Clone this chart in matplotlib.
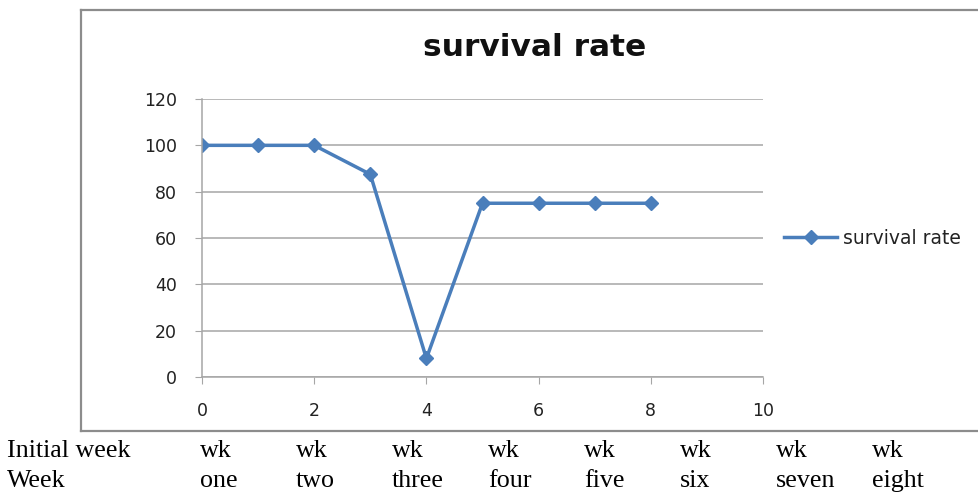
import matplotlib.pyplot as plt
from matplotlib.lines import Line2D

# data
weeks = [0, 1, 2, 3, 4, 5, 6, 7, 8]
survival = [100, 100, 100, 87.5, 8, 75, 75, 75, 75]
series_name = "survival rate"

row_heads = ["Initial week", "Week"]
col_top = ["wk"] * 8
col_bottom = ["one", "two", "three", "four", "five", "six", "seven", "eight"]

W, H = 979, 494
BLUE = "#4A7EBB"
GRID = "#a6a6a6"

plt.rcParams["font.family"] = ["DejaVu Sans"]

fig = plt.figure(figsize=(W / 100, H / 100), dpi=100)


def fx(px):
    return px / W


def fy(py):
    return 1 - py / H


# chart frame (right edge is cut off in the reference)
frame = dict(color="#8c8c8c", linewidth=1.6, transform=fig.transFigure)
fig.add_artist(Line2D([fx(81), fx(81)], [fy(10), fy(431)], **frame))
fig.add_artist(Line2D([fx(81), 1.0], [fy(10), fy(10)], **frame))
fig.add_artist(Line2D([fx(81), 1.0], [fy(431), fy(431)], **frame))

ax = fig.add_axes([fx(202), fy(377), fx(763) - fx(202), fy(99) - fy(377)])
ax.plot(weeks, survival, color=BLUE, linewidth=2.5, marker="D",
        markersize=7.5, label=series_name)

ax.set_xlim(0, 10)
ax.set_ylim(0, 120)
ax.set_xticks(range(0, 11, 2))
ax.set_yticks(range(0, 121, 20))
ax.yaxis.grid(True, color=GRID, linewidth=1.1)
ax.set_axisbelow(True)
for side in ["top", "right"]:
    ax.spines[side].set_visible(False)
for side in ["left", "bottom"]:
    ax.spines[side].set_color(GRID)
    ax.spines[side].set_linewidth(1.1)
ax.tick_params(axis="x", direction="out", length=5, color=GRID,
               labelsize=12.5, pad=13, labelcolor="#222222")
ax.tick_params(axis="y", direction="out", length=5, color=GRID,
               labelsize=12.5, pad=13, labelcolor="#222222")

fig.text(fx(535), fy(47), "survival rate", ha="center", va="center",
         fontsize=22.5, fontweight="bold", color="#111111")

ax.legend(loc="center left", bbox_to_anchor=((777 - 202) / (763 - 202), 0.5),
          frameon=False, fontsize=13.5, handlelength=2.8, handletextpad=0.3,
          borderaxespad=0, labelcolor="#222222")

# table of week names below the chart
serif = ["Liberation Serif", "DejaVu Serif"]
fs = 18.7
fig.text(fx(7), fy(457), row_heads[0], family=serif, fontsize=fs, va="baseline")
fig.text(fx(7), fy(487), row_heads[1], family=serif, fontsize=fs, va="baseline")
for k, (top, bot) in enumerate(zip(col_top, col_bottom)):
    x = fx(200 + 96 * k)
    fig.text(x, fy(457), top, family=serif, fontsize=fs, va="baseline")
    fig.text(x, fy(487), bot, family=serif, fontsize=fs, va="baseline")

fig.savefig("out.png", dpi=100)
